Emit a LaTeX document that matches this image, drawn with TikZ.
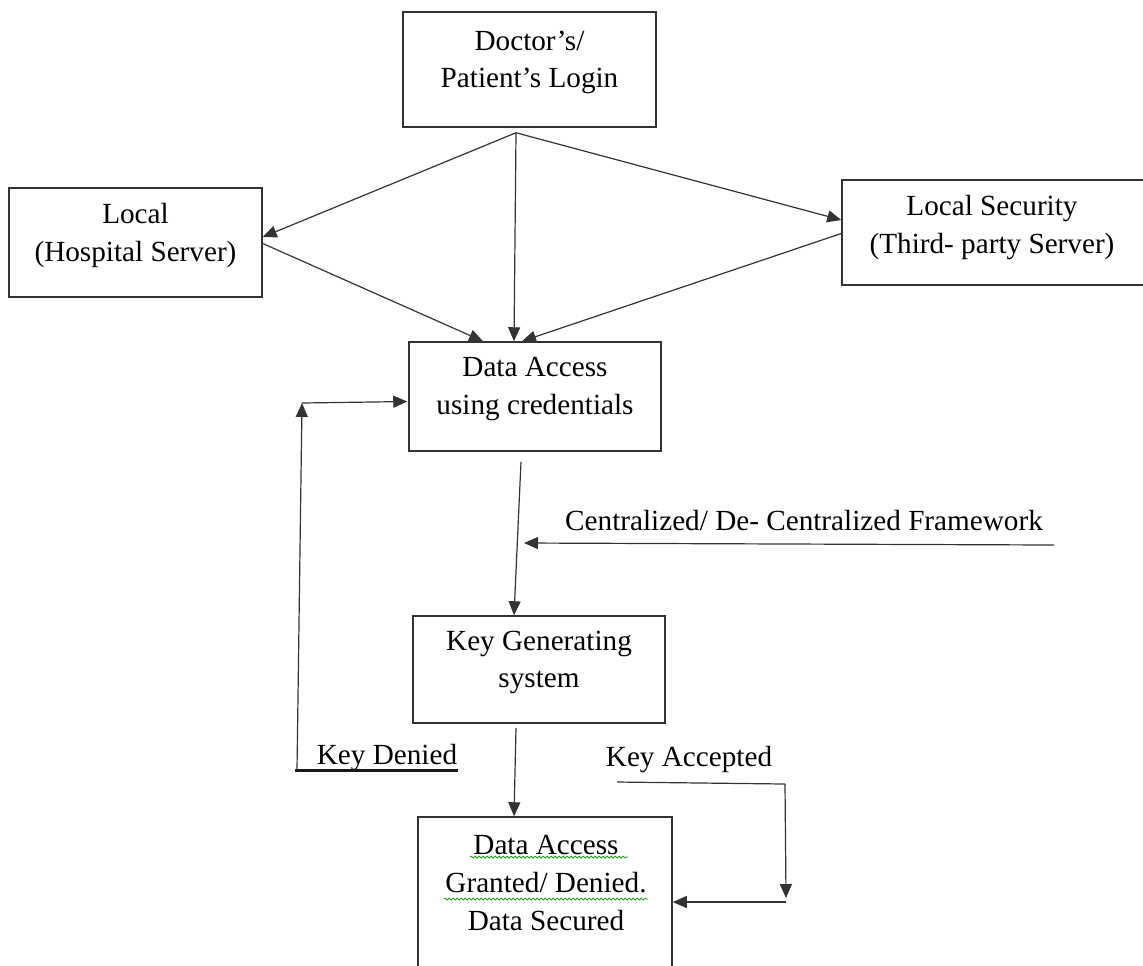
\documentclass[tikz,border=0pt]{standalone}
\usepackage{fontspec}
\setmainfont{Liberation Serif}
\usetikzlibrary{arrows.meta,calc,decorations.pathmorphing}
\begin{document}
\begin{tikzpicture}[x=0.5pt,y=-0.5pt,
  boxnode/.style={draw=black!80, line width=0.75pt, inner sep=0pt},
  lbl/.style={font=\fontsize{14.6}{18.8}\selectfont, align=center, inner sep=0pt},
  conn/.style={draw=black!80, line width=0.6pt, -{Triangle[length=7pt,width=6pt]}},
  plainline/.style={draw=black!80, line width=0.6pt},
  squig/.style={draw=green!60!black, line width=0.35pt, decorate, decoration={snake, amplitude=0.5pt, segment length=2pt}}
]
\useasboundingbox (0,0) rectangle (1143,965);
\clip (0,0) rectangle (1143,965);

% boxes
\node[boxnode, minimum width=126.5pt, minimum height=57.5pt] (login) at (529.5,69.5) {};
\node[lbl] (loginT) at ($(login.center)+(0,-7)$) {Doctor’s/\\Patient’s Login};

\node[boxnode, minimum width=126.5pt, minimum height=54.5pt] (local) at (135.5,242.5) {};
\node[lbl] (localT) at ($(local.center)+(0,-7)$) {Local\\(Hospital Server)};

\node[boxnode, minimum width=154pt, minimum height=52.5pt] (lsec) at (996,232.5) {};
\node[lbl] (lsecT) at (992,227.5) {Local Security\\(Third- party Server)};

\node[boxnode, minimum width=126pt, minimum height=54.5pt] (da) at (535,396.5) {};
\node[lbl] (daT) at ($(da.center)+(0,-7.5)$) {Data Access\\using credentials};

\node[boxnode, minimum width=126pt, minimum height=53.5pt] (kg) at (539,669.5) {};
\node[lbl] (kgT) at ($(kg.center)+(0,-7)$) {Key Generating\\system};

\node[boxnode, minimum width=127pt, minimum height=86.5pt] (out) at (545,903.5) {};
\node[lbl] (outT) at (546,883) {Data Access\\Granted/ Denied.\\Data Secured};
\draw[squig] (470,857) -- (628,857);
\draw[squig] (444,899) -- (648,899);

% arrows from login
\coordinate (ls) at ($(login.south)+(-13.5,5)$);
\draw[conn] (ls) -- ($(local.east)+(0,-5.5)$);
\draw[conn] (ls) -- ($(lsec.west)+(0,-12.5)$);
\draw[conn] (ls) -- ($(da.north)+(-21,0)$);
\draw[conn] ($(local.east)+(0,1)$) -- ($(da.north)+(-52,0)$);
\draw[conn] ($(lsec.west)+(0,1)$) -- ($(da.north)+(-13,0)$);

% data access -> key generating
\draw[conn] ($(da.south)+(-14,10)$) -- ($(kg.north)+(-25,0)$);

% framework
\node[lbl] (fwT) at (804,520) {Centralized/ De- Centralized Framework};
\coordinate (fwS) at (1054,545);
\coordinate (fwE) at (524,543);
\draw[conn] (fwS) -- (fwE);

% key generating -> output
\draw[conn] ($(kg.south)+(-23,4)$) -- ($(out.north)+(-31,0)$);

% key denied
\node[lbl] (kd) at (387,757) {Key Denied};
\coordinate (kdL) at (295,770);
\draw[line width=1.5pt, black!90] (kdL) -- (kdL -| kd.east);
\coordinate (kdT) at (302,403);
\draw[conn] ($(kdL)+(2,0)$) -- (kdT);
\draw[conn] (kdT) -- ($(da.west)+(-1,5)$);

% key accepted
\node[lbl] (ka) at (689,759) {Key Accepted};
\coordinate (kaL) at (617,782);
\coordinate (kaR) at (785,784);
\coordinate (kaB) at (786,902);
\draw[plainline] (kaL) -- (kaR);
\draw[conn] (kaR) -- ($(kaB)+(0,-4)$);
\draw[conn] (kaB) -- (out.east |- kaB);
\end{tikzpicture}
\end{document}
